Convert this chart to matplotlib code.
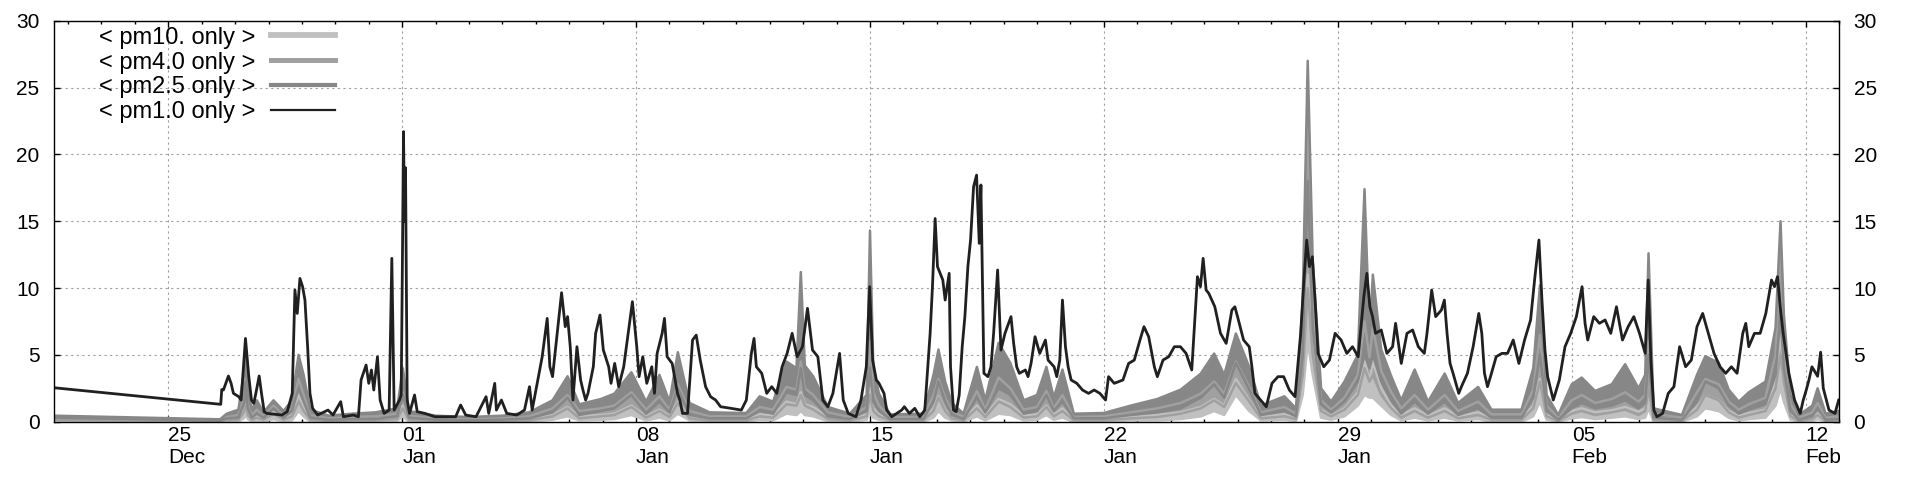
import numpy as np
import matplotlib.pyplot as plt
import matplotlib.dates as mdates

plt.rcParams['font.family'] = ['Liberation Sans', 'DejaVu Sans']
plt.rcParams['font.size'] = 15

# time axis: days relative to 01 Jan 00:00
base = np.datetime64('2018-01-01T00:00:00')

# pm1.0 only (black line)
pm1_days = [-10.42, -5.43, -5.40, -5.35, -5.20, -5.12, -5.05, -4.89, -4.82, -4.69, -4.59, -4.51, -4.44,
            -4.36, -4.28, -4.21, -4.13, -4.05, -3.60, -3.44, -3.29, -3.21, -3.14, -3.06, -2.98, -2.91,
            -2.83, -2.76, -2.68, -2.53, -2.22, -2.07, -1.84, -1.76, -1.46, -1.31, -1.23, -1.08, -1.00,
            -0.92, -0.85, -0.74, -0.66, -0.54, -0.39, -0.31, -0.24, -0.08, -0.03, 0.00, 0.04, 0.07,
            0.10, 0.15, 0.22, 0.37, 0.45, 0.68, 0.98, 1.60, 1.75, 1.90, 2.21, 2.51, 2.59, 2.77, 2.82,
            2.97, 3.13, 3.43, 3.66, 3.81, 3.89, 4.04, 4.19, 4.34, 4.42, 4.50, 4.65, 4.77, 4.88, 4.95,
            5.03, 5.11, 5.23, 5.34, 5.41, 5.49, 5.56, 5.72, 5.79, 5.92, 6.02, 6.18, 6.25, 6.36, 6.48,
            6.63, 6.79, 6.89, 7.02, 7.09, 7.20, 7.32, 7.47, 7.55, 7.63, 7.78, 7.85, 7.93, 8.08, 8.24,
            8.31, 8.39, 8.54, 8.69, 8.80, 8.92, 9.08, 9.23, 9.38, 9.53, 9.84, 10.15, 10.30, 10.45,
            10.53, 10.60, 10.76, 10.91, 11.06, 11.21, 11.37, 11.52, 11.67, 11.82, 11.98, 12.13, 12.28,
            12.44, 12.59, 12.74, 12.89, 13.09, 13.20, 13.35, 13.58, 13.73, 13.89, 13.99, 14.08, 14.19,
            14.27, 14.42, 14.50, 14.65, 14.80, 14.95, 15.03, 15.18, 15.34, 15.49, 15.64, 15.80, 15.87,
            15.95, 16.02, 16.18, 16.25, 16.37, 16.41, 16.50, 16.58, 16.67, 16.76, 16.84, 16.93, 17.01,
            17.10, 17.19, 17.27, 17.32, 17.41, 17.53, 17.62, 17.70, 17.82, 17.92, 18.04, 18.22, 18.30,
            18.39, 18.47, 18.65, 18.73, 18.82, 18.94, 19.08, 19.25, 19.33, 19.51, 19.59, 19.68, 19.76,
            19.85, 19.93, 20.02, 20.19, 20.36, 20.54, 20.71, 20.88, 21.05, 21.14, 21.31, 21.57, 21.74,
            21.91, 22.08, 22.20, 22.34, 22.51, 22.60, 22.77, 22.94, 23.11, 23.29, 23.46, 23.63, 23.80,
            23.89, 23.97, 24.06, 24.14, 24.32, 24.49, 24.66, 24.83, 24.92, 25.00, 25.18, 25.35, 25.43,
            25.52, 25.69, 25.86, 26.03, 26.21, 26.38, 26.55, 26.72, 26.89, 26.98, 27.07, 27.15, 27.24,
            27.32, 27.41, 27.58, 27.75, 27.92, 28.10, 28.27, 28.44, 28.61, 28.78, 28.87, 28.96, 29.04,
            29.13, 29.30, 29.47, 29.64, 29.73, 29.90, 30.07, 30.24, 30.41, 30.59, 30.67, 30.81, 30.93,
            31.10, 31.19, 31.27, 31.36, 31.45, 31.62, 31.70, 31.88, 32.05, 32.22, 32.31, 32.39, 32.48,
            32.57, 32.74, 32.91, 33.08, 33.25, 33.42, 33.59, 33.77, 33.90, 34.02, 34.11, 34.20, 34.28,
            34.45, 34.63, 34.80, 34.97, 35.14, 35.31, 35.40, 35.48, 35.66, 35.83, 36.00, 36.17, 36.34,
            36.52, 36.69, 36.86, 37.03, 37.20, 37.29, 37.37, 37.46, 37.55, 37.72, 37.89, 38.06, 38.23,
            38.41, 38.58, 38.75, 38.92, 39.09, 39.26, 39.44, 39.61, 39.78, 39.95, 40.12, 40.21, 40.30,
            40.47, 40.64, 40.81, 40.98, 41.07, 41.16, 41.24, 41.33, 41.50, 41.67, 41.84, 41.93, 42.02,
            42.10, 42.19, 42.36, 42.45, 42.53, 42.70, 42.88, 42.99]
pm1_vals = [2.54, 1.30, 2.40, 2.37, 3.42, 2.87, 2.12, 1.87, 1.62, 6.23, 3.37, 1.62, 1.37,
            2.37, 3.42, 2.12, 0.75, 0.62, 0.50, 0.75, 2.12, 9.85, 8.10, 10.72, 10.10, 9.10,
            5.61, 2.12, 1.00, 0.50, 0.87, 0.50, 1.50, 0.37, 0.50, 0.37, 3.12, 4.24, 2.87,
            3.87, 2.37, 4.86, 1.62, 0.62, 0.87, 12.22, 0.87, 1.62, 2.00, 10.00, 21.70, 15.00,
            19.00, 1.62, 0.62, 2.00, 0.75, 0.62, 0.37, 0.37, 1.25, 0.50, 0.37, 1.87, 0.62, 2.87, 0.87,
            1.62, 0.62, 0.50, 0.87, 2.62, 0.87, 2.87, 4.86, 7.73, 4.11, 3.37, 6.86, 9.65, 7.11, 7.86,
            5.61, 1.62, 5.61, 3.12, 2.37, 1.62, 2.12, 4.11, 6.61, 7.98, 5.36, 4.11, 2.87, 4.36, 2.62,
            4.11, 7.11, 8.98, 5.61, 3.37, 4.86, 2.87, 4.11, 2.12, 5.11, 6.61, 7.73, 4.86, 4.36, 2.12,
            1.62, 0.62, 0.62, 6.11, 6.48, 4.61, 2.62, 1.87, 1.62, 1.12, 1.00, 0.87, 1.62, 5.11,
            6.23, 4.11, 3.62, 2.12, 2.62, 2.12, 4.11, 5.11, 6.61, 4.86, 5.61, 8.48, 5.36,
            4.86, 1.62, 1.12, 2.12, 5.11, 1.62, 0.62, 0.37, 1.62, 4.11, 10.10, 4.61, 3.12,
            2.87, 2.12, 0.87, 0.37, 0.62, 0.87, 1.12, 0.62, 1.00, 0.37, 0.87, 6.61, 10.10,
            15.20, 11.60, 10.60, 9.10, 11.10, 4.11, 0.87, 0.75, 2.00, 5.61, 7.86, 11.60, 13.59,
            17.58, 18.45, 13.34, 17.71, 3.62, 3.37, 4.11, 6.61, 11.35, 5.36, 6.61, 7.86, 5.86,
            4.11, 3.62, 3.87, 3.37, 4.36, 6.36, 5.11, 6.11, 4.61, 4.11, 3.37, 4.61, 9.10,
            5.61, 4.11, 3.12, 2.87, 2.37, 2.12, 2.37, 2.12, 1.62, 3.37, 2.87, 3.12, 4.36,
            4.61, 6.11, 7.11, 6.36, 4.11, 3.37, 4.61, 4.86, 5.61, 5.61, 5.11, 3.87, 10.85,
            10.10, 12.22, 9.85, 9.60, 8.60, 6.61, 5.86, 8.35, 8.60, 7.86, 6.11, 5.61, 4.11,
            2.12, 1.62, 1.12, 2.87, 3.37, 3.37, 2.37, 1.87, 6.61, 10.35, 13.59, 11.60, 12.34,
            9.10, 5.11, 4.11, 4.61, 6.61, 6.11, 5.11, 5.61, 4.86, 9.35, 11.10, 8.60, 7.86,
            6.61, 6.86, 5.11, 5.61, 7.36, 4.36, 6.61, 6.86, 5.61, 5.11, 6.61, 9.85, 7.86,
            8.35, 9.10, 6.61, 4.36, 3.62, 2.12, 2.62, 3.62, 5.61, 8.10, 6.61, 3.62, 2.62,
            3.37, 4.86, 5.11, 5.11, 6.11, 4.36, 6.11, 7.61, 10.85, 13.59, 9.10, 5.36, 3.37,
            1.62, 3.12, 5.61, 6.61, 7.86, 10.10, 7.36, 6.11, 7.86, 7.36, 7.61, 6.61, 8.60,
            6.11, 7.11, 7.86, 6.61, 5.11, 10.60, 4.61, 0.87, 0.37, 0.62, 2.12, 2.62, 5.61,
            4.11, 4.61, 7.11, 8.10, 6.61, 5.11, 4.11, 3.62, 4.11, 3.62, 6.61, 7.36, 5.61,
            6.61, 6.61, 8.10, 10.60, 10.10, 10.85, 8.60, 6.61, 3.62, 1.62, 0.62, 1.62, 2.37,
            3.12, 4.11, 3.40, 5.20, 2.50, 0.87, 0.62, 1.62]

# pm2.5 / pm4.0 / pm10 only (grey bands: low and high edge of the noisy trace)
gray_days = [-10.42, -5.45, -5.25, -4.90, -4.72, -4.69, -4.62, -4.50, -4.35, -4.15, -3.85, -3.55,
             -3.30, -3.10, -2.95, -2.75, -2.20, -1.50, -0.80, -0.15, 0.02, 0.20, 1.00, 2.00, 3.00,
             3.80, 4.50, 4.95, 5.30, 5.95, 6.35, 6.86, 7.30, 7.70, 8.00, 8.25, 8.60, 9.20, 10.30,
             10.70, 11.10, 11.50, 11.80, 11.93, 12.05, 12.30, 12.74, 13.40, 13.90, 14.00, 14.10,
             14.27, 14.60, 15.60, 15.90, 16.05, 16.25, 16.45, 16.80, 17.20, 17.45, 17.85, 18.20,
             18.60, 19.00, 19.28, 19.50, 19.76, 20.10, 21.00, 21.80, 22.60, 23.30, 23.90, 24.30,
             24.60, 24.95, 25.35, 25.70, 26.40, 26.75, 26.95, 27.10, 27.25, 27.50, 27.80, 28.20,
             28.60, 28.80, 28.95, 29.05, 29.30, 29.60, 29.90, 30.30, 30.70, 31.20, 31.60, 32.20,
             32.60, 33.50, 33.85, 34.05, 34.25, 34.60, 35.00, 35.30, 35.70, 36.20, 36.60, 37.00,
             37.20, 37.30, 37.45, 38.30, 38.75, 39.00, 39.40, 39.70, 40.00, 40.30, 40.80, 41.10,
             41.25, 41.35, 41.55, 41.80, 42.20, 42.36, 42.60, 43.00]
pm25_lo = [0.30, 0.08, 0.25, 0.3, 1.5, 3.0, 1.0, 0.3, 0.6, 0.3, 1.0, 0.3,
           0.8, 2.5, 1.5, 0.3, 0.15, 0.2, 0.2, 0.4, 2.0, 0.3, 0.15, 0.1, 0.15,
           0.25, 0.7, 1.8, 0.5, 0.8, 1.0, 2.0, 0.6, 1.5, 0.7, 2.5, 0.5, 0.25, 0.25,
           0.8, 0.6, 2.2, 2.0, 4.0, 2.0, 1.6, 0.4, 0.2, 0.8, 4.0, 1.5,
           0.8, 0.2, 0.2, 1.5, 3.0, 1.5, 0.5, 0.2, 1.8, 0.7, 2.5, 2.0,
           0.6, 0.8, 2.0, 0.8, 1.5, 0.25, 0.25, 0.5, 0.7, 1.0, 1.8, 2.8,
           1.8, 4.4, 2.4, 0.5, 0.8, 0.4, 5.0, 18.0, 7.0, 1.3, 0.7, 1.5,
           3.0, 5.0, 4.0, 5.0, 3.0, 1.6, 0.6, 1.5, 0.6, 1.5, 0.5, 1.0,
           0.3, 0.3, 1.8, 5.0, 0.8, 0.15, 1.0, 1.4, 1.0, 1.2, 1.6, 1.0,
           1.4, 5.0, 0.3, 0.15, 1.5, 3.0, 2.5, 1.2, 0.6, 0.9, 1.3, 3.5,
           8.0, 4.0, 0.8, 0.15, 0.4, 1.0, 0.15, 0.2]
pm25_hi = [0.45, 0.18, 0.6, 0.9, 4.0, 5.3, 2.5, 0.9, 1.6, 0.7, 1.6, 0.8,
           1.6, 5.0, 3.5, 0.9, 0.45, 0.6, 0.7, 1.0, 4.0, 0.8, 0.45, 0.35, 0.45,
           0.7, 1.6, 3.4, 1.3, 1.7, 2.1, 3.7, 1.5, 3.5, 1.5, 5.2, 1.4, 0.7, 0.65,
           1.9, 1.5, 4.5, 4.0, 11.2, 4.2, 3.4, 1.1, 0.6, 2.0, 14.3, 4.0,
           2.1, 0.55, 0.6, 3.5, 5.4, 3.0, 1.4, 0.6, 4.1, 1.6, 5.9, 4.4,
           1.6, 2.0, 4.1, 1.8, 3.9, 0.6, 0.65, 1.2, 1.7, 2.4, 3.6, 5.1,
           3.5, 6.6, 4.1, 1.2, 1.9, 1.0, 9.0, 27.0, 12.0, 2.5, 1.5, 3.0,
           5.0, 17.4, 6.5, 11.0, 5.4, 3.4, 1.6, 3.9, 1.5, 3.6, 1.4, 2.6,
           0.9, 0.9, 4.0, 10.2, 2.0, 0.5, 2.8, 3.3, 2.3, 2.8, 4.3, 2.5,
           3.5, 12.6, 1.0, 0.5, 3.5, 4.9, 4.4, 2.4, 1.5, 2.2, 3.0, 7.0,
           15.0, 8.0, 2.0, 0.5, 1.2, 2.5, 0.6, 0.8]
pm4_lo = [0.15, 0.04, 0.12, 0.15, 0.8, 1.8, 0.5, 0.15, 0.3, 0.15, 0.6, 0.15,
          0.4, 1.5, 0.8, 0.15, 0.05, 0.1, 0.1, 0.2, 1.0, 0.15, 0.05, 0.05, 0.05,
          0.1, 0.4, 1.0, 0.25, 0.4, 0.5, 1.1, 0.3, 0.8, 0.35, 1.4, 0.25, 0.1, 0.1,
          0.4, 0.3, 1.3, 1.2, 2.0, 1.2, 0.9, 0.2, 0.1, 0.4, 2.0, 0.8,
          0.4, 0.1, 0.1, 0.8, 1.8, 0.8, 0.25, 0.1, 1.0, 0.35, 1.5, 1.1,
          0.3, 0.4, 1.1, 0.4, 0.8, 0.1, 0.1, 0.25, 0.35, 0.6, 1.0, 1.6,
          1.1, 2.9, 1.5, 0.25, 0.4, 0.2, 3.5, 10.0, 5.0, 0.8, 0.4, 0.9,
          2.0, 4.0, 3.0, 3.5, 2.0, 1.0, 0.3, 0.8, 0.3, 0.8, 0.25, 0.5,
          0.15, 0.15, 1.0, 3.0, 0.4, 0.05, 0.6, 0.8, 0.5, 0.7, 0.9, 0.5,
          0.8, 2.5, 0.15, 0.05, 0.9, 2.0, 1.6, 0.7, 0.3, 0.5, 0.8, 2.5,
          5.0, 3.0, 0.4, 0.05, 0.2, 0.5, 0.05, 0.1]
pm4_hi = [0.32, 0.12, 0.35, 0.5, 2.0, 3.2, 1.4, 0.5, 0.9, 0.4, 1.2, 0.45,
          1.0, 3.2, 2.0, 0.5, 0.25, 0.35, 0.4, 0.6, 2.2, 0.45, 0.25, 0.2, 0.25,
          0.4, 1.0, 2.0, 0.8, 1.0, 1.2, 2.2, 0.9, 1.9, 0.9, 2.8, 0.8, 0.4, 0.4,
          1.1, 0.9, 2.6, 2.4, 4.5, 2.5, 2.0, 0.7, 0.35, 1.1, 6.0, 2.2,
          1.2, 0.35, 0.35, 2.0, 3.2, 1.8, 0.8, 0.35, 2.3, 0.9, 3.3, 2.5,
          0.9, 1.1, 2.3, 1.0, 2.0, 0.35, 0.4, 0.7, 1.0, 1.4, 2.1, 3.0,
          2.1, 4.5, 2.6, 0.7, 1.1, 0.6, 6.0, 22.0, 9.0, 1.6, 0.9, 1.8,
          3.5, 7.5, 4.8, 7.0, 3.8, 2.2, 1.0, 2.0, 0.9, 2.0, 0.8, 1.5,
          0.55, 0.55, 2.4, 6.5, 1.2, 0.3, 1.6, 2.0, 1.4, 1.7, 2.2, 1.5,
          2.0, 6.0, 0.6, 0.3, 2.2, 3.2, 2.8, 1.5, 0.9, 1.3, 1.8, 5.0,
          13.0, 5.5, 1.3, 0.3, 0.7, 1.4, 0.3, 0.4]
pm10_lo = [0.0, 0.0, 0.0, 0.0, 0.3, 0.8, 0.2, 0.0, 0.1, 0.0, 0.2, 0.0,
           0.1, 0.8, 0.4, 0.0, 0.0, 0.0, 0.0, 0.05, 0.4, 0.0, 0.0, 0.0, 0.0,
           0.0, 0.15, 0.4, 0.1, 0.15, 0.2, 0.5, 0.1, 0.3, 0.1, 0.6, 0.1, 0.0, 0.0,
           0.15, 0.1, 0.6, 0.5, 0.8, 0.5, 0.4, 0.05, 0.0, 0.15, 0.8, 0.3,
           0.15, 0.0, 0.0, 0.3, 0.8, 0.3, 0.1, 0.0, 0.4, 0.1, 0.6, 0.5,
           0.1, 0.15, 0.5, 0.15, 0.3, 0.0, 0.0, 0.1, 0.1, 0.2, 0.4, 0.8,
           0.5, 2.0, 0.8, 0.1, 0.15, 0.05, 2.0, 6.0, 3.5, 0.3, 0.15, 0.4,
           1.2, 2.0, 1.8, 1.8, 1.2, 0.5, 0.1, 0.3, 0.1, 0.3, 0.1, 0.2,
           0.0, 0.0, 0.4, 1.5, 0.15, 0.0, 0.25, 0.35, 0.2, 0.3, 0.4, 0.2,
           0.3, 1.0, 0.0, 0.0, 0.4, 1.0, 0.8, 0.3, 0.1, 0.2, 0.3, 1.2,
           2.5, 1.5, 0.15, 0.0, 0.05, 0.2, 0.0, 0.0]
pm10_hi = [0.18, 0.06, 0.15, 0.25, 1.0, 2.0, 0.7, 0.25, 0.4, 0.2, 0.7, 0.2,
           0.5, 2.0, 1.2, 0.25, 0.12, 0.15, 0.2, 0.3, 1.2, 0.2, 0.12, 0.1, 0.12,
           0.2, 0.5, 1.1, 0.4, 0.5, 0.6, 1.2, 0.4, 0.9, 0.45, 1.5, 0.4, 0.2, 0.2,
           0.55, 0.45, 1.5, 1.3, 2.2, 1.3, 1.1, 0.35, 0.18, 0.55, 2.5, 1.0,
           0.6, 0.18, 0.18, 1.0, 1.9, 0.9, 0.4, 0.18, 1.2, 0.45, 1.7, 1.3,
           0.45, 0.55, 1.2, 0.5, 1.0, 0.18, 0.2, 0.35, 0.5, 0.7, 1.1, 1.7,
           1.2, 3.2, 1.6, 0.35, 0.55, 0.3, 4.0, 11.0, 6.0, 0.9, 0.45, 1.0,
           2.2, 4.6, 3.0, 4.5, 2.5, 1.2, 0.5, 1.0, 0.45, 1.0, 0.4, 0.7,
           0.25, 0.25, 1.2, 3.2, 0.6, 0.15, 0.8, 1.0, 0.7, 0.85, 1.1, 0.75,
           1.0, 2.5, 0.3, 0.15, 1.1, 2.0, 1.6, 0.8, 0.45, 0.65, 0.9, 3.0,
           6.5, 3.5, 0.6, 0.15, 0.3, 0.6, 0.15, 0.2]

tick_dates = ['2017-12-25', '2018-01-01', '2018-01-08', '2018-01-15',
              '2018-01-22', '2018-01-29', '2018-02-05', '2018-02-12']
tick_labels = ['25\nDec', '01\nJan', '08\nJan', '15\nJan', '22\nJan', '29\nJan', '05\nFeb', '12\nFeb']


def to_time(days):
    return base + np.round(np.asarray(days) * 86400).astype('timedelta64[s]')


t1 = to_time(pm1_days)
tg = to_time(gray_days)

fig = plt.figure(figsize=(19.2, 4.8), dpi=100)
ax = fig.add_axes([54 / 1920, 1 - 421.7 / 480, 1785 / 1920, 401 / 480])

series = [(pm10_lo, pm10_hi, '#c0c0c0', '< pm10. only >'),
          (pm4_lo, pm4_hi, '#a0a0a0', '< pm4.0 only >'),
          (pm25_lo, pm25_hi, '#878787', '< pm2.5 only >')]
for lo, hi, col, lab in series:
    ax.fill_between(tg, lo, hi, color=col, lw=0)
    ax.plot(tg, hi, color=col, lw=1.8, label=lab)
    ax.plot(tg, lo, color=col, lw=1.8)

ax.plot(t1, pm1_vals, color='#202020', lw=2.0, label='< pm1.0 only >')

ax.set_xlim(to_time(-10.42), to_time(43.0))
ax.set_ylim(0, 30)
ax.set_yticks(np.arange(0, 31, 5))
ax.set_xticks(np.array(tick_dates, dtype='datetime64[s]'), tick_labels, ha='left')
ax.xaxis.set_minor_locator(mdates.DayLocator())

ax.grid(True, which='major', color='#a0a0a0', linestyle=(0, (2, 3)), lw=0.8)
ax.set_axisbelow(True)
ax.tick_params(axis='both', which='both', direction='in', top=True, right=True)
ax.tick_params(axis='y', labelleft=True, labelright=True, pad=10.5)
ax.tick_params(axis='x', pad=3)
ax.tick_params(which='major', length=4, width=1)
ax.tick_params(which='minor', length=2.5, width=1)
for s in ax.spines.values():
    s.set_linewidth(1.0)

leg = ax.legend(loc='upper left', bbox_to_anchor=(0.0252, 0.985), frameon=False,
                markerfirst=False, handlelength=2.7, handletextpad=0.68,
                labelspacing=0.12, borderaxespad=0, borderpad=0, fontsize=17)
for line, w in zip(leg.get_lines(), [4.2, 3.6, 3.0, 1.6]):
    line.set_linewidth(w)

fig.savefig('out.png', dpi=100)
